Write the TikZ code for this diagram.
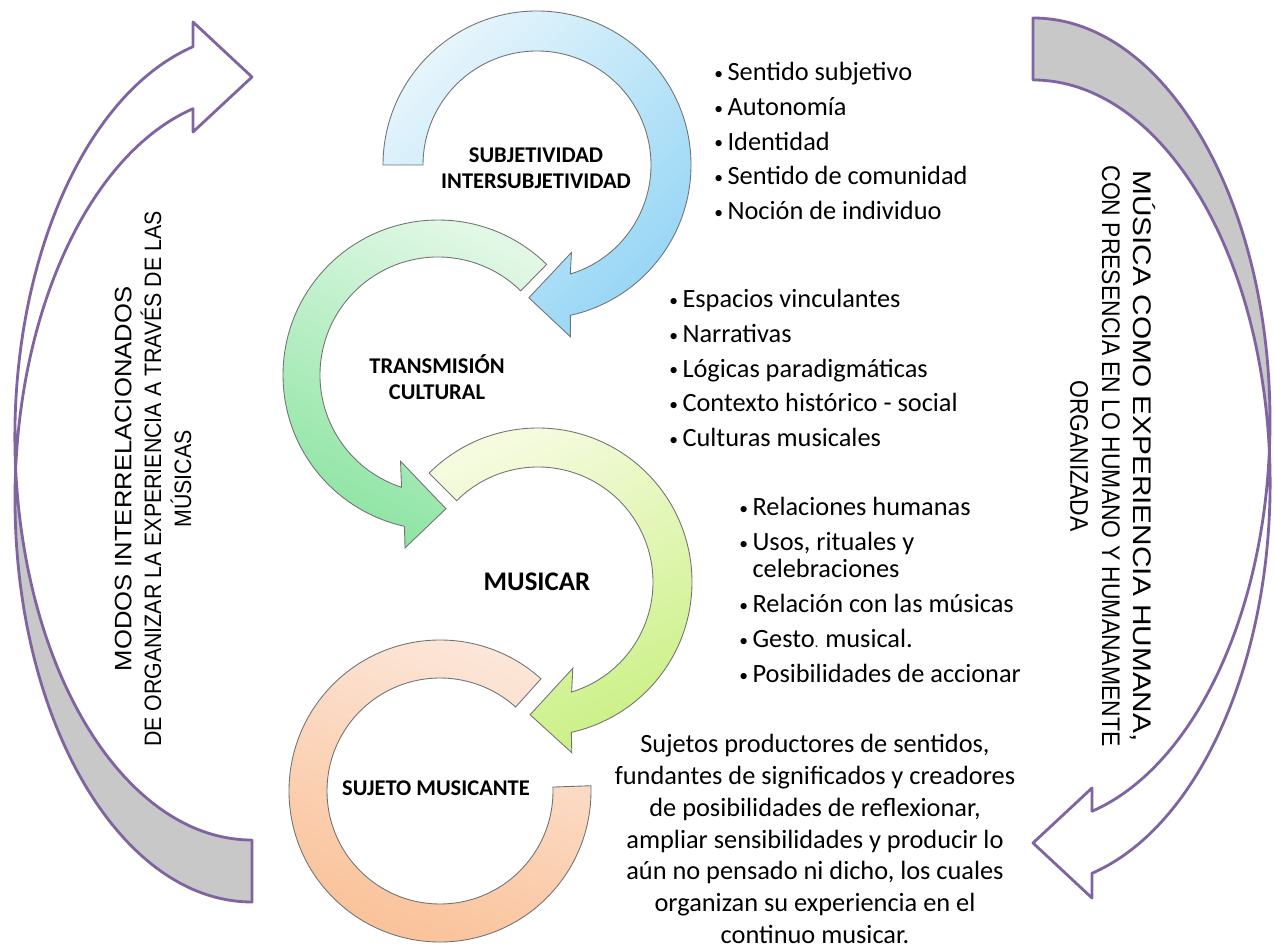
\documentclass[tikz,border=0pt]{standalone}
\usepackage{fontspec}
\usepackage{graphicx}
\setmainfont{Carlito}
\newfontfamily\narrowfont[FakeStretch=0.9]{Liberation Sans}

\definecolor{arrowpurple}{RGB}{128,100,162}
\definecolor{backgray}{RGB}{200,200,200}
\definecolor{bluelight}{RGB}{230,245,252}
\definecolor{bluedark}{RGB}{150,214,245}
\definecolor{greenlight}{RGB}{226,248,230}
\definecolor{greendark}{RGB}{140,228,162}
\definecolor{yellowlight}{RGB}{246,251,224}
\definecolor{yellowdark}{RGB}{202,240,132}
\definecolor{orangelight}{RGB}{252,232,220}
\definecolor{orangedark}{RGB}{250,192,150}

% bullet for the lists
\newcommand{\itm}{\makebox[7.5pt][l]{\raisebox{0.6pt}{\fontsize{10}{10}\selectfont\textbullet}}}

% big curved arrow on the side (gray back, white front, head on top)
\newcommand{\sidearrow}{%
    \fill[backgray] (15,514) arc[start angle=180, end angle=270, x radius=237, y radius=403] -- (252,49)
        arc[start angle=270, end angle=180, x radius=237, y radius=403] -- cycle;
    \fill[white] (15,452) arc[start angle=180, end angle=104.4, x radius=237, y radius=403]
        -- (193,819) -- (252,874) -- (193,929) -- (193,904.3)
        arc[start angle=104.4, end angle=180, x radius=237, y radius=403] -- cycle;
    \draw[arrowline] (193,842.3) -- (193,819) -- (252,874) -- (193,929) -- (193,904.3)
        arc[start angle=104.4, end angle=270, x radius=237, y radius=403] -- (252,49)
        arc[start angle=270, end angle=104.4, x radius=237, y radius=403] -- cycle;
}

\begin{document}
\begin{tikzpicture}[x=0.02cm, y=0.02cm,
        ring/.style={draw=black!55, line width=0.5pt},
        arrowline/.style={draw=arrowpurple, line width=1.6pt, line join=round},
        ringlabel/.style={font=\bfseries\fontsize{12.8}{14.7}\selectfont, align=center, inner sep=0pt},
        bullets/.style={font=\fontsize{15}{15.5}\selectfont, align=left, inner sep=0pt, anchor=west},
        sidetext/.style={font=\narrowfont\fontsize{13.5}{17}\selectfont, align=center, inner sep=0pt}]
    \fill[white] (0,0) rectangle (1275,951);
    \useasboundingbox (0,0) rectangle (1275,951);

    % side arrows
    \sidearrow
    \begin{scope}[rotate around={180:(642.5,491)}]
        \sidearrow
    \end{scope}

    % circular arrows
    \begin{scope}[shift={(440,160)}]
        \shadedraw[ring, top color=orangelight, bottom color=orangedark, shading angle=-20]
            (48:151) arc[start angle=48, end angle=362, radius=151]
            -- (362:113) arc[start angle=362, end angle=48, radius=113] -- cycle;
    \end{scope}
    \begin{scope}[shift={(538,369)}]
        \shadedraw[ring, top color=yellowlight, bottom color=yellowdark, shading angle=25]
            (135:154) arc[start angle=135, end angle=-77.5, radius=154]
            -- (-78.8:174) -- (-93.4:133) -- (-68:93) -- (-73:115)
            arc[start angle=-73, end angle=135, radius=115] -- cycle;
    \end{scope}
    \begin{scope}[shift={(438,576)}]
        \shadedraw[ring, top color=greenlight, bottom color=greendark, shading angle=-25]
            (45.5:155) arc[start angle=45.5, end angle=257.5, radius=155]
            -- (259.2:176) -- (273.4:134) -- (246.5:94) -- (252:118)
            arc[start angle=252, end angle=45.5, radius=118] -- cycle;
    \end{scope}
    \begin{scope}[shift={(537,786)}]
        \shadedraw[ring, top color=bluelight, bottom color=bluedark, shading angle=45]
            (180:154) arc[start angle=180, end angle=-77.5, radius=154]
            -- (-79:175) -- (-93.5:133) -- (-68.5:94) -- (-73:114)
            arc[start angle=-73, end angle=180, radius=114] -- cycle;
    \end{scope}

    % labels inside the rings
    \node[ringlabel] (subjetividad) at (536,783) {SUBJETIVIDAD\\INTERSUBJETIVIDAD};
    \node[ringlabel] (transmision) at (437,574) {TRANSMISIÓN\\CULTURAL};
    \node[ringlabel, font=\bfseries\fontsize{15.3}{18}\selectfont] (musicar) at (537,369) {MUSICAR};
    \node[ringlabel] (sujeto) at (436,163) {SUJETO MUSICANTE};

    % lists
    \node[bullets] (sentidos) at (714,810) {\itm Sentido subjetivo\\[4.3pt]\itm Autonomía\\[4.3pt]\itm Identidad\\[4.3pt]\itm Sentido de comunidad\\[4.3pt]\itm Noción de individuo};
    \node[bullets] (espacios) at (669,583) {\itm Espacios vinculantes\\[4.3pt]\itm Narrativas\\[4.3pt]\itm Lógicas paradigmáticas\\[4.3pt]\itm Contexto histórico - social\\[4.3pt]\itm Culturas musicales};
    \node[bullets] (relaciones) at (739,361) {\itm Relaciones humanas\\[4.3pt]\itm Usos, rituales y\\\makebox[7.5pt]{}celebraciones\\[4.3pt]\itm Relación con las músicas\\[4.3pt]\itm Gesto{\fontsize{8}{8}\selectfont.}\hspace{4pt}musical.\\[4.3pt]\itm Posibilidades de accionar};
    \node[font=\fontsize{15}{18.1}\selectfont, align=center, inner sep=0pt] (productores) at (815,112) {Sujetos productores de sentidos,\\fundantes de significados y creadores\\de posibilidades de reflexionar,\\ampliar sensibilidades y producir lo\\aún no pensado ni dicho, los cuales\\organizan su experiencia en el\\continuo musicar.};

    % side texts
    \node[sidetext, rotate=90] (modos) at (153,472) {\scalebox{1.2}[1]{MODOS INTERRELACIONADOS}\\DE ORGANIZAR LA EXPERIENCIA A TRAVÉS DE LAS\\MÚSICAS};
    \node[sidetext, rotate=-90, font=\narrowfont\fontsize{14.5}{18}\selectfont] (musica) at (1113,495) {\scalebox{1.3}[1]{MÚSICA COMO EXPERIENCIA HUMANA,}\\CON PRESENCIA EN LO HUMANO Y HUMANAMENTE\\ORGANIZADA};
\end{tikzpicture}
\end{document}
